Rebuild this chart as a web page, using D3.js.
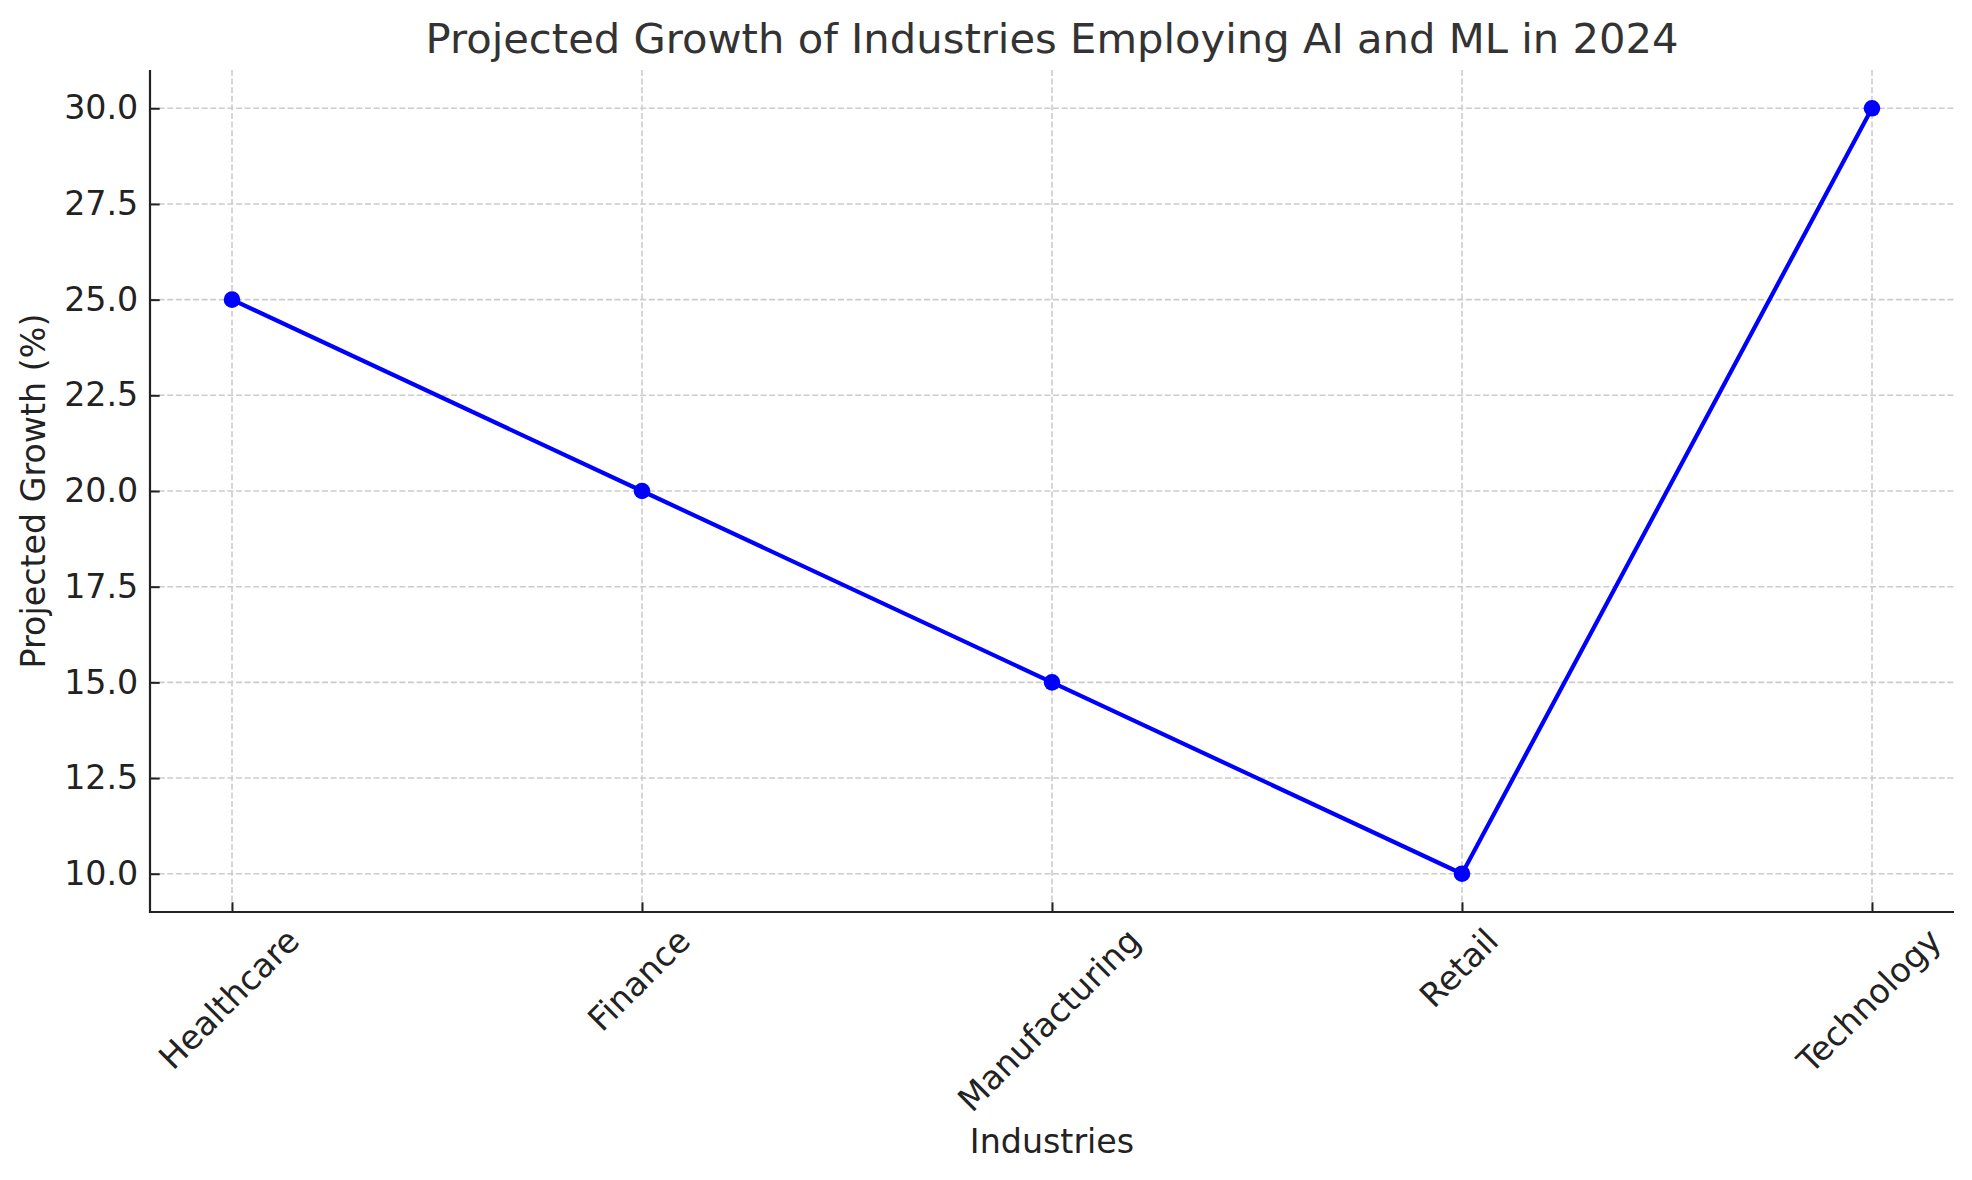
<!DOCTYPE html>
<html>
<head>
<meta charset="utf-8">
<script src="https://cdn.jsdelivr.net/npm/d3@7"></script>
<style>
  body { margin: 0; background: #fff; }
  svg { display: block; font-family: "DejaVu Sans", sans-serif; }
</style>
</head>
<body>
<div id="chart"></div>
<script>
// data
const industries = ["Healthcare", "Finance", "Manufacturing", "Retail", "Technology"];
const growth = [25, 20, 15, 10, 30];
const yTicks = [10, 12.5, 15, 17.5, 20, 22.5, 25, 27.5, 30];

const width = 1972, height = 1180;
const plotLeft = 150, plotRight = 1954, plotTop = 70, plotBottom = 912;
const tickLen = 9.7;
const labelSize = 33.3;
const ink = "#222";

const svg = d3.select("#chart").append("svg")
  .attr("width", width)
  .attr("height", height);

const x = d3.scalePoint()
  .domain(industries)
  .range([plotLeft, plotRight])
  .padding(0.2);

const y = d3.scaleLinear()
  .domain([9, 31])
  .range([plotBottom, plotTop]);

// grid first, under everything
const grid = svg.append("g")
  .attr("stroke", "#cccccc")
  .attr("stroke-width", 1.6)
  .attr("stroke-dasharray", "6,2.6");

grid.selectAll("line.gx")
  .data(industries)
  .join("line")
  .attr("class", "gx")
  .attr("x1", d => x(d)).attr("x2", d => x(d))
  .attr("y1", plotTop).attr("y2", plotBottom);

grid.selectAll("line.gy")
  .data(yTicks)
  .join("line")
  .attr("class", "gy")
  .attr("x1", plotLeft).attr("x2", plotRight)
  .attr("y1", d => y(d)).attr("y2", d => y(d));

// y axis, ticks point inward
const yAxis = svg.append("g")
  .attr("transform", `translate(${plotLeft},0)`)
  .call(d3.axisLeft(y).tickValues(yTicks).tickFormat(d3.format(".1f"))
    .tickSizeInner(-tickLen).tickSizeOuter(0).tickPadding(11.7));
yAxis.select(".domain").remove();
yAxis.selectAll(".tick line").attr("stroke", ink).attr("stroke-width", 2);
yAxis.selectAll(".tick text")
  .attr("fill", ink)
  .style("font-size", labelSize + "px")
  .style("font-family", "DejaVu Sans");

// x axis, ticks inward, labels rotated by hand
const xAxis = svg.append("g")
  .attr("transform", `translate(0,${plotBottom})`)
  .call(d3.axisBottom(x).tickSizeInner(-tickLen).tickSizeOuter(0).tickFormat(""));
xAxis.select(".domain").remove();
xAxis.selectAll(".tick line").attr("stroke", ink).attr("stroke-width", 2);

const xLabels = svg.append("g")
  .selectAll("text")
  .data(industries)
  .join("text")
  .attr("fill", ink)
  .attr("text-anchor", "middle")
  .attr("dominant-baseline", "central")
  .style("font-size", labelSize + "px")
  .text(d => d);

xLabels.each(function(d) {
  const w = this.getComputedTextLength();
  const boxH = (w + labelSize) / Math.SQRT2;
  const cy = plotBottom + 11 + boxH / 2;
  d3.select(this).attr("transform", `translate(${x(d) - 3},${cy}) rotate(-45)`);
});

// spines: left and bottom only
svg.append("line")
  .attr("x1", plotLeft).attr("x2", plotLeft)
  .attr("y1", plotTop).attr("y2", plotBottom + 1)
  .attr("stroke", ink).attr("stroke-width", 2.2);
svg.append("line")
  .attr("x1", plotLeft - 1).attr("x2", plotRight)
  .attr("y1", plotBottom).attr("y2", plotBottom)
  .attr("stroke", ink).attr("stroke-width", 2.2);

// the series
const line = d3.line()
  .x((d, i) => x(industries[i]))
  .y(d => y(d));

svg.append("path")
  .datum(growth)
  .attr("fill", "none")
  .attr("stroke", "#0000ff")
  .attr("stroke-width", 4.2)
  .attr("stroke-linejoin", "round")
  .attr("d", line);

svg.append("g")
  .selectAll("circle")
  .data(growth)
  .join("circle")
  .attr("cx", (d, i) => x(industries[i]))
  .attr("cy", d => y(d))
  .attr("r", 8.3)
  .attr("fill", "#0000ff");

// titles
svg.append("text")
  .attr("x", (plotLeft + plotRight) / 2)
  .attr("y", 53)
  .attr("text-anchor", "middle")
  .attr("fill", "#333")
  .style("font-size", "41.7px")
  .text("Projected Growth of Industries Employing AI and ML in 2024");

svg.append("text")
  .attr("x", (plotLeft + plotRight) / 2)
  .attr("y", 1153)
  .attr("text-anchor", "middle")
  .attr("fill", ink)
  .style("font-size", labelSize + "px")
  .text("Industries");

svg.append("text")
  .attr("transform", `translate(45,${(plotTop + plotBottom) / 2}) rotate(-90)`)
  .attr("text-anchor", "middle")
  .attr("fill", ink)
  .style("font-size", labelSize + "px")
  .text("Projected Growth (%)");
</script>
</body>
</html>
